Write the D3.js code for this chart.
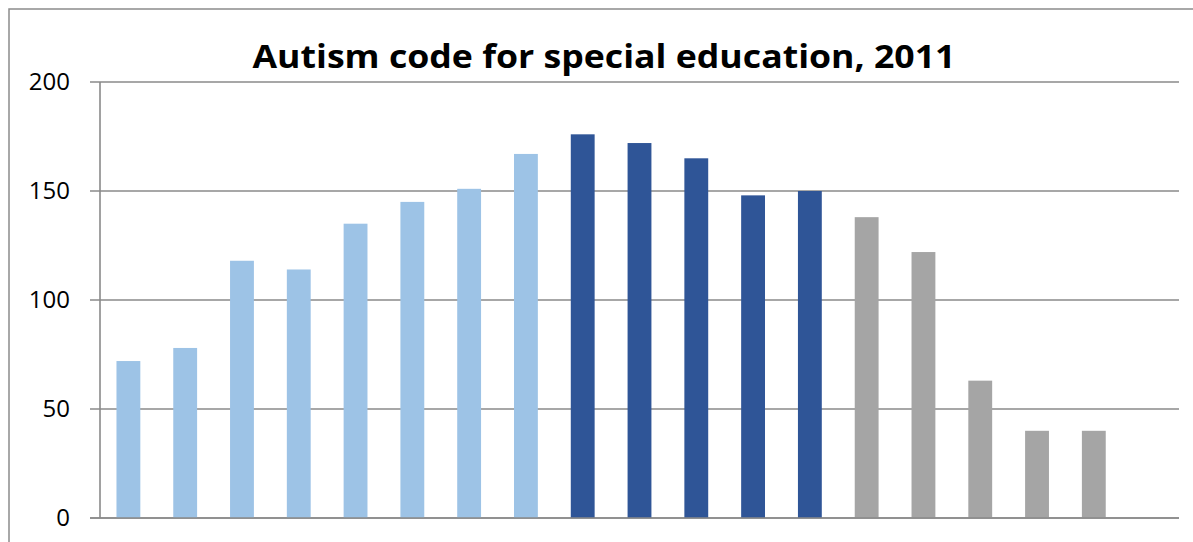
<!DOCTYPE html>
<html><head><meta charset="utf-8">
<script src="https://cdn.jsdelivr.net/npm/d3@7"></script>
<style>body{margin:0;background:#fff;}svg{display:block;}</style>
</head><body>
<svg id="c" width="1193" height="542"></svg>
<script>
const title = "Autism code for special education, 2011";
const categories = ["1","2","3","4","5","6","7","8","9","10","11","12","13","14","15","16","17","18","19"];
const values = [72, 78, 118, 114, 135, 145, 151, 167, 176, 172, 165, 148, 150, 138, 122, 63, 40, 40];
const groups = ["a","a","a","a","a","a","a","a","b","b","b","b","b","c","c","c","c","c"];
const groupColors = {a:"#9DC3E6", b:"#2F5597", c:"#A5A5A5"};
const yTicks = [0, 50, 100, 150, 200];

const svg = d3.select("#c");
const m = {left:100, right:1179, top:82, bottom:518};
const x = d3.scaleBand().domain(categories).range([m.left, m.right]).paddingInner(0.58).paddingOuter(0.29);
const y = d3.scaleLinear().domain([0,200]).range([m.bottom, m.top]);

// outer frame
svg.append("rect").attr("x",9).attr("y",9).attr("width",1300).attr("height",700)
  .attr("fill","none").attr("stroke","#8c8c8c").attr("stroke-width",1.5);

// gridlines
svg.append("g").selectAll("line").data(yTicks).join("line")
  .attr("x1",90).attr("x2",m.right).attr("y1",d=>y(d)).attr("y2",d=>y(d))
  .attr("stroke","#8a8a8a").attr("stroke-width",1.6);

// y axis line
svg.append("line").attr("x1",m.left).attr("x2",m.left).attr("y1",m.top).attr("y2",m.bottom)
  .attr("stroke","#8a8a8a").attr("stroke-width",1.6);

// y labels
svg.append("g").selectAll("text").data(yTicks).join("text")
  .attr("x",70).attr("y",d=>y(d)).attr("dy","0.35em").attr("text-anchor","end")
  .attr("font-family","'Open Sans', sans-serif").attr("font-size",24).attr("fill","#000")
  .text(d=>d);

// bars
svg.append("g").selectAll("rect").data(values).join("rect")
  .attr("x",(d,i)=>x(categories[i])).attr("width",x.bandwidth())
  .attr("y",d=>y(d)).attr("height",d=>y(0)-y(d))
  .attr("fill",(d,i)=>groupColors[groups[i]]);

// redraw baseline on top
svg.append("line").attr("x1",90).attr("x2",m.right).attr("y1",y(0)).attr("y2",y(0))
  .attr("stroke","#8a8a8a").attr("stroke-width",1.6);

// title
svg.append("text").attr("x",604).attr("y",68).attr("text-anchor","middle")
  .attr("font-family","'Open Sans', sans-serif").attr("font-weight","bold").attr("font-size",32)
  .attr("textLength",703).attr("lengthAdjust","spacingAndGlyphs")
  .text(title);
</script>
</body></html>
